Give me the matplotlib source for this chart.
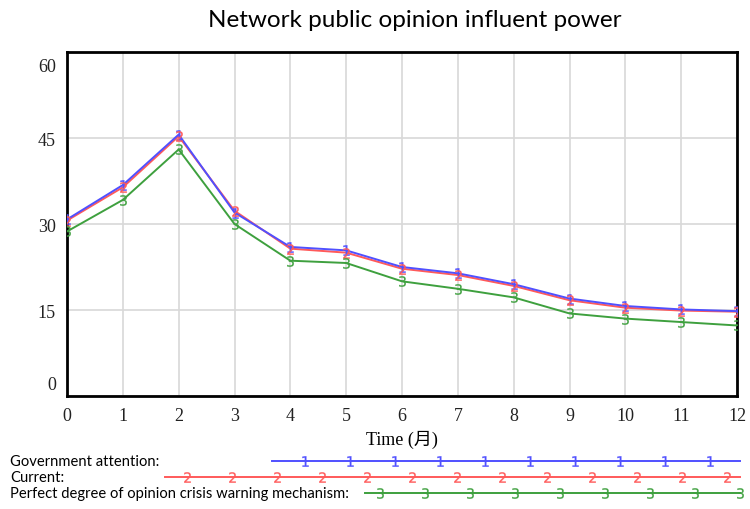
import matplotlib.pyplot as plt
import matplotlib.transforms as mtransforms

# data
time = [0, 1, 2, 3, 4, 5, 6, 7, 8, 9, 10, 11, 12]
gov_attention = [30.8, 36.8, 45.6, 32.0, 26.0, 25.4, 22.5, 21.4, 19.5, 17.0, 15.7, 15.1, 14.8]
current = [30.6, 36.4, 45.3, 32.3, 25.7, 25.0, 22.2, 21.1, 19.2, 16.7, 15.4, 14.9, 14.7]
warning_mech = [28.7, 34.2, 43.0, 30.0, 23.6, 23.2, 20.0, 18.7, 17.2, 14.4, 13.5, 12.9, 12.3]

series_names = ["Government attention:", "Current:",
                "Perfect degree of opinion crisis warning mechanism:"]
colors = ["#5050ff", "#ff5a5a", "#3ea03e"]
yticks = [0, 15, 30, 45, 60]

serif = ["Liberation Serif", "Noto Sans CJK SC"]

fig = plt.figure(figsize=(7.5, 5.1), dpi=100)
ax = fig.add_axes([67 / 750, 1 - 397 / 510, 670 / 750, 344 / 510])

all_series = [gov_attention, current, warning_mech]
for i, (vals, c) in enumerate(zip(all_series, colors)):
    ax.plot(time, vals, color=c, lw=1.4, zorder=3 + (2 - i) * 0.1)
    ax.plot(time, vals, ls="none", marker="$%d$" % (i + 1), ms=7.5,
            mew=0.2, color=c, zorder=4)

ax.set_xlim(0, 12)
ax.set_ylim(0, 60)
ax.set_xticks(time)
ax.set_yticks(yticks)
ax.grid(True, color="#d8d8d8", lw=1.2)
ax.set_axisbelow(True)
ax.tick_params(length=0, labelsize=13, pad=8)
for lab in ax.get_xticklabels() + ax.get_yticklabels():
    lab.set_fontfamily(serif)
    lab.set_color("#222222")
for sp in ax.spines.values():
    sp.set_linewidth(2)

# nudge the end labels inward like the original
ylabs = ax.get_yticklabels()
ylabs[0].set_transform(ylabs[0].get_transform() +
                       mtransforms.ScaledTranslation(0, 13 / 100, fig.dpi_scale_trans))
ylabs[-1].set_transform(ylabs[-1].get_transform() +
                        mtransforms.ScaledTranslation(0, -12 / 100, fig.dpi_scale_trans))

ax.set_xlabel("Time (月)", fontfamily=serif, fontsize=13, labelpad=4)

fig.text(0.553, 0.96, "Network public opinion influent power",
         ha="center", va="center", fontsize=17.5, fontfamily="Lato")

# legend strip at the bottom, Vensim style
lax = fig.add_axes([0, 0, 1, 1 - 450 / 510])
lax.set_xlim(0, 750)
lax.set_ylim(60, 0)
lax.axis("off")
rows = [462 - 450, 478 - 450, 494 - 450]
line_start = [272, 165, 365]
mark_start = [305, 187, 380]
for i in range(3):
    y = rows[i]
    lax.text(10, y, series_names[i], fontsize=10.6, va="center",
             fontfamily="Lato")
    lax.plot([line_start[i], 740], [y, y], color=colors[i], lw=1.4)
    xs = list(range(mark_start[i], 745, 45))
    lax.plot(xs, [y] * len(xs), ls="none", marker="$%d$" % (i + 1),
             ms=7.5, mew=0.2, color=colors[i])

fig.savefig("out.png", dpi=100)
